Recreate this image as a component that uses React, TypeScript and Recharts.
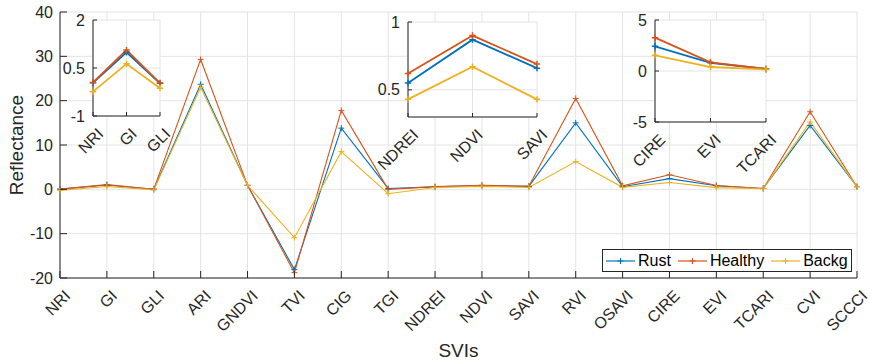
import React from 'react';
import { LineChart, Line, XAxis, YAxis, CartesianGrid, Legend, Label } from 'recharts';

const categories = ['NRI', 'GI', 'GLI', 'ARI', 'GNDVI', 'TVI', 'CIG', 'TGI', 'NDREI', 'NDVI', 'SAVI', 'RVI', 'OSAVI', 'CIRE', 'EVI', 'TCARI', 'CVI', 'SCCCI'];
const rust = [0.04, 0.99, 0.02, 23.7, 0.9, -18.1, 13.8, 0.2, 0.55, 0.87, 0.66, 15.0, 0.6, 2.42, 0.8, 0.2, 14.4, 0.6];
const healthy = [0.05, 1.06, 0.03, 29.3, 0.9, -18.8, 17.8, 0.0, 0.62, 0.9, 0.69, 20.5, 0.8, 3.27, 0.85, 0.2, 17.5, 0.6];
const backg = [-0.24, 0.63, -0.13, 23.0, 0.9, -10.9, 8.5, -1.0, 0.43, 0.67, 0.43, 6.25, 0.45, 1.54, 0.39, 0.15, 15.2, 0.6];
const mainYTicks = [-20, -10, 0, 10, 20, 30, 40];
const mainYDomain = [-20, 40];

const inset1Cats = ['NRI', 'GI', 'GLI'];
const inset1YTicks = [-1, 0.5, 2];
const inset1YDomain = [-1, 2];
const inset2Cats = ['NDREI', 'NDVI', 'SAVI'];
const inset2YTicks = [0.5, 1];
const inset2YDomain = [0.3, 1];
const inset3Cats = ['CIRE', 'EVI', 'TCARI'];
const inset3YTicks = [-5, 0, 5];
const inset3YDomain = [-5, 5];

const seriesNames = ['Rust', 'Healthy', 'Backg'];
const seriesKeys = ['rust', 'healthy', 'backg'];
const seriesColors = ['#0072BD', '#D95319', '#EDB120'];

const AX = '#262626';
const GRID = '#e4e4e4';
const FONT = '"Liberation Sans", Arial, Helvetica, sans-serif';

const data = categories.map((name, i) => ({ name, rust: rust[i], healthy: healthy[i], backg: backg[i] }));
const pick = (cats: string[]) => data.filter((d) => cats.includes(d.name));

const makeDot = (color: string, r: number, sw: number) => (props: any) => {
  const { cx, cy, index } = props;
  if (cx == null || cy == null) return <g key={`n${index}`} />;
  return (
    <path
      key={`d${index}`}
      d={`M${cx - r},${cy}H${cx + r}M${cx},${cy - r}V${cy + r}`}
      stroke={color}
      strokeWidth={sw}
      fill="none"
    />
  );
};

const bottomTick = (len: number) => (props: any) => {
  const { x, y, payload } = props;
  const tx = x + 7.5;
  const ty = y + 15;
  return (
    <g>
      <line x1={x} y1={y} x2={x} y2={y - len} stroke={AX} strokeWidth={1} />
      <text
        x={tx}
        y={ty}
        transform={`rotate(-45 ${tx} ${ty})`}
        textAnchor="end"
        dominantBaseline="central"
        fontSize={16}
        fontFamily={FONT}
        fill={AX}
      >
        {payload.value}
      </text>
    </g>
  );
};

const topTick = (len: number) => (props: any) => {
  const { x, y } = props;
  return <line x1={x} y1={y} x2={x} y2={y + len} stroke={AX} strokeWidth={1} />;
};

const leftTick = (len: number, gap: number) => (props: any) => {
  const { x, y, payload } = props;
  return (
    <g>
      <line x1={x} y1={y} x2={x + len} y2={y} stroke={AX} strokeWidth={1} />
      <text
        x={x - gap}
        y={y}
        textAnchor="end"
        dominantBaseline="central"
        fontSize={16}
        fontFamily={FONT}
        fill={AX}
      >
        {payload.value}
      </text>
    </g>
  );
};

const rightTick = (len: number) => (props: any) => {
  const { x, y } = props;
  return <line x1={x} y1={y} x2={x - len} y2={y} stroke={AX} strokeWidth={1} />;
};

const LegendBox = () => (
  <div
    style={{
      display: 'flex',
      alignItems: 'center',
      height: 21,
      border: `1px solid ${AX}`,
      background: '#fff',
      padding: '0 3px',
      fontFamily: FONT,
      fontSize: 16,
      color: '#000',
      whiteSpace: 'nowrap',
      lineHeight: '21px',
    }}
  >
    {seriesNames.map((n, i) => (
      <span key={n} style={{ display: 'flex', alignItems: 'center', marginRight: i < seriesNames.length - 1 ? 7 : 0 }}>
        <svg width={29} height={10} style={{ display: 'block' }}>
          <line x1={0} y1={5} x2={29} y2={5} stroke={seriesColors[i]} strokeWidth={1.2} />
          <path d="M11.5,5H17.5M14.5,2V8" stroke={seriesColors[i]} strokeWidth={1} />
        </svg>
        <span style={{ marginLeft: 3 }}>{n}</span>
      </span>
    ))}
  </div>
);

type InsetProps = {
  cats: string[];
  domain: number[];
  ticks: number[];
  px: number;
  py: number;
  pw: number;
  ph: number;
};

const Inset = ({ cats, domain, ticks, px, py, pw, ph }: InsetProps) => {
  const LM = 50;
  const TM = 10;
  const RM = 20;
  const BM = 70;
  return (
    <div style={{ position: 'absolute', left: px - LM, top: py - TM }}>
      <LineChart width={LM + pw + RM} height={TM + ph + BM} data={pick(cats)} margin={{ top: TM, right: RM, left: 0, bottom: 0 }}>
        <CartesianGrid stroke={GRID} fill="#ffffff" fillOpacity={1} />
        <XAxis
          dataKey="name"
          height={BM}
          interval={0}
          tickSize={0}
          tickMargin={0}
          tickLine={false}
          axisLine={{ stroke: AX, strokeWidth: 1 }}
          tick={bottomTick(4)}
        />
        <XAxis
          xAxisId="t"
          dataKey="name"
          orientation="top"
          height={0}
          interval={0}
          tickSize={0}
          tickMargin={0}
          tickLine={false}
          axisLine={{ stroke: AX, strokeWidth: 1 }}
          tick={topTick(4)}
        />
        <YAxis
          width={LM}
          type="number"
          domain={domain}
          ticks={ticks}
          interval={0}
          allowDataOverflow
          tickSize={0}
          tickMargin={0}
          tickLine={false}
          axisLine={{ stroke: AX, strokeWidth: 1 }}
          tick={leftTick(4, 8)}
        />
        <YAxis
          yAxisId="r"
          orientation="right"
          width={0}
          type="number"
          domain={domain}
          ticks={ticks}
          interval={0}
          allowDataOverflow
          tickSize={0}
          tickMargin={0}
          tickLine={false}
          axisLine={{ stroke: AX, strokeWidth: 1 }}
          tick={rightTick(4)}
        />
        <Line xAxisId="t" yAxisId="r" dataKey="rust" stroke="none" dot={false} activeDot={false} isAnimationActive={false} legendType="none" />
        {seriesKeys.map((k, i) => (
          <Line
            key={k}
            dataKey={k}
            stroke={seriesColors[i]}
            strokeWidth={1.8}
            dot={makeDot(seriesColors[i], 3.2, 1.5)}
            activeDot={false}
            isAnimationActive={false}
          />
        ))}
      </LineChart>
    </div>
  );
};

export default function App() {
  return (
    <div style={{ position: 'absolute', left: 0, top: 0, width: 870, height: 362, background: '#fff' }}>
      <div style={{ position: 'absolute', left: 0, top: 0 }}>
        <LineChart width={870} height={362} data={data} margin={{ top: 12, right: 13, left: 0, bottom: 0 }}>
          <CartesianGrid stroke={GRID} />
          <XAxis
            dataKey="name"
            height={84}
            interval={0}
            tickSize={0}
            tickMargin={0}
            tickLine={false}
            axisLine={{ stroke: AX, strokeWidth: 1 }}
            tick={bottomTick(7)}
          >
            <Label
              content={(p: any) => {
                const vb = p.viewBox || {};
                return (
                  <text
                    x={vb.x + vb.width / 2}
                    y={vb.y + 72}
                    textAnchor="middle"
                    dominantBaseline="central"
                    fontSize={19}
                    fontFamily={FONT}
                    fill={AX}
                  >
                    SVIs
                  </text>
                );
              }}
            />
          </XAxis>
          <XAxis
            xAxisId="t"
            dataKey="name"
            orientation="top"
            height={0}
            interval={0}
            tickSize={0}
            tickMargin={0}
            tickLine={false}
            axisLine={{ stroke: AX, strokeWidth: 1 }}
            tick={topTick(7)}
          />
          <YAxis
            width={60}
            type="number"
            domain={mainYDomain}
            ticks={mainYTicks}
            interval={0}
            allowDataOverflow
            tickSize={0}
            tickMargin={0}
            tickLine={false}
            axisLine={{ stroke: AX, strokeWidth: 1 }}
            tick={leftTick(7, 7)}
          >
            <Label
              content={(p: any) => {
                const vb = p.viewBox || {};
                const cx = vb.x + 16;
                const cy = vb.y + vb.height / 2;
                return (
                  <text
                    x={cx}
                    y={cy}
                    transform={`rotate(-90 ${cx} ${cy})`}
                    textAnchor="middle"
                    dominantBaseline="central"
                    fontSize={19}
                    fontFamily={FONT}
                    fill={AX}
                  >
                    Reflectance
                  </text>
                );
              }}
            />
          </YAxis>
          <YAxis
            yAxisId="r"
            orientation="right"
            width={0}
            type="number"
            domain={mainYDomain}
            ticks={mainYTicks}
            interval={0}
            allowDataOverflow
            tickSize={0}
            tickMargin={0}
            tickLine={false}
            axisLine={{ stroke: AX, strokeWidth: 1 }}
            tick={rightTick(8)}
          />
          <Line xAxisId="t" yAxisId="r" dataKey="rust" stroke="none" dot={false} activeDot={false} isAnimationActive={false} legendType="none" />
          {seriesKeys.map((k, i) => (
            <Line
              key={k}
              dataKey={k}
              name={seriesNames[i]}
              stroke={seriesColors[i]}
              strokeWidth={1.1}
              dot={makeDot(seriesColors[i], 3, 1)}
              activeDot={false}
              isAnimationActive={false}
            />
          ))}
          <Legend
            layout="vertical"
            align="center"
            verticalAlign="middle"
            wrapperStyle={{ position: 'absolute', left: 602, top: 249, width: 'auto', height: 'auto' }}
            content={() => <LegendBox />}
          />
        </LineChart>
      </div>
      <Inset cats={inset1Cats} domain={inset1YDomain} ticks={inset1YTicks} px={93} py={20} pw={67} ph={96} />
      <Inset cats={inset2Cats} domain={inset2YDomain} ticks={inset2YTicks} px={408} py={22} pw={129} ph={95} />
      <Inset cats={inset3Cats} domain={inset3YDomain} ticks={inset3YTicks} px={655} py={20} pw={111} ph={102} />
    </div>
  );
}
